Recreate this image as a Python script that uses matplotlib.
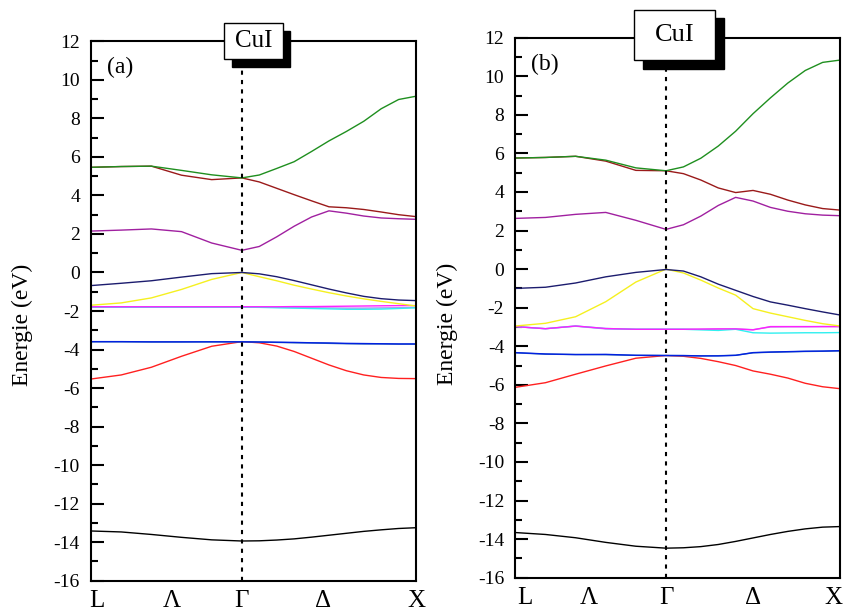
import numpy as np
import matplotlib.pyplot as plt
from matplotlib.patches import Rectangle

plt.rcParams['font.family'] = ['Liberation Serif', 'DejaVu Serif']
plt.rcParams['axes.unicode_minus'] = False

#%% data
# k path: L -> Gamma (0.866) -> X (1.866)
k = [0.0, 0.1732, 0.3464, 0.5196, 0.6928, 0.866,
     0.966, 1.066, 1.166, 1.266, 1.366, 1.466, 1.566, 1.666, 1.766, 1.866]
k_labels = ['L', 'Λ', 'Γ', 'Δ', 'X']
gamma_k = 0.866

# panel (a)
a_black = [-13.42, -13.47, -13.60, -13.75, -13.88, -13.94,
           -13.93, -13.89, -13.83, -13.74, -13.64, -13.54, -13.44, -13.36, -13.29, -13.25]
a_red = [-5.53, -5.32, -4.92, -4.35, -3.83, -3.59,
         -3.65, -3.82, -4.10, -4.45, -4.80, -5.10, -5.32, -5.45, -5.50, -5.51]
a_steel = [-3.60, -3.60, -3.61, -3.61, -3.60, -3.60,
           -3.61, -3.63, -3.65, -3.66, -3.68, -3.70, -3.71, -3.71, -3.72, -3.72]
a_blue = [-3.59, -3.59, -3.60, -3.60, -3.60, -3.60,
          -3.61, -3.62, -3.63, -3.65, -3.66, -3.68, -3.69, -3.70, -3.71, -3.71]
a_lav = [-1.80, -1.80, -1.80, -1.80, -1.80, -1.80,
         -1.80, -1.81, -1.82, -1.83, -1.84, -1.85, -1.85, -1.84, -1.83, -1.82]
a_cyan = [-1.80, -1.80, -1.80, -1.80, -1.80, -1.80,
          -1.81, -1.83, -1.85, -1.87, -1.89, -1.91, -1.91, -1.90, -1.87, -1.83]
a_magenta = [-1.78, -1.78, -1.78, -1.78, -1.78, -1.78,
             -1.78, -1.78, -1.77, -1.77, -1.76, -1.75, -1.74, -1.73, -1.72, -1.72]
a_yellow = [-1.70, -1.58, -1.32, -0.88, -0.36, 0.0,
            -0.22, -0.43, -0.66, -0.86, -1.05, -1.22, -1.37, -1.50, -1.62, -1.74]
a_navy = [-0.68, -0.56, -0.43, -0.24, -0.06, 0.0,
          -0.07, -0.22, -0.42, -0.64, -0.86, -1.06, -1.24, -1.36, -1.43, -1.46]
a_purple = [2.15, 2.20, 2.26, 2.12, 1.53, 1.15,
            1.35, 1.85, 2.40, 2.88, 3.20, 3.08, 2.93, 2.83, 2.79, 2.76]
a_darkred = [5.46, 5.50, 5.52, 5.05, 4.82, 4.91,
             4.70, 4.37, 4.04, 3.72, 3.41, 3.36, 3.27, 3.14, 3.00, 2.90]
a_green = [5.46, 5.50, 5.52, 5.30, 5.07, 4.91,
           5.06, 5.40, 5.75, 6.28, 6.83, 7.32, 7.85, 8.50, 8.98, 9.15]

# panel (b)
b_black = [-13.66, -13.76, -13.93, -14.17, -14.37, -14.47,
           -14.45, -14.39, -14.28, -14.12, -13.94, -13.76, -13.60, -13.47, -13.38, -13.35]
b_red = [-6.13, -5.89, -5.45, -5.02, -4.62, -4.48,
         -4.52, -4.63, -4.80, -5.00, -5.28, -5.45, -5.65, -5.92, -6.10, -6.20]
b_steel = [-4.34, -4.41, -4.43, -4.44, -4.47, -4.48,
           -4.49, -4.50, -4.49, -4.47, -4.34, -4.31, -4.29, -4.27, -4.26, -4.24]
b_blue = [-4.33, -4.40, -4.43, -4.42, -4.47, -4.48,
          -4.48, -4.50, -4.50, -4.47, -4.33, -4.30, -4.28, -4.26, -4.25, -4.23]
b_lav = [-2.98, -3.09, -2.96, -3.10, -3.12, -3.12,
         -3.12, -3.12, -3.11, -3.10, -3.14, -3.00, -2.99, -2.99, -2.98, -2.98]
b_cyan = [-2.98, -3.09, -2.95, -3.08, -3.12, -3.12,
          -3.12, -3.15, -3.18, -3.12, -3.30, -3.32, -3.31, -3.30, -3.30, -3.29]
b_magenta = [-2.98, -3.09, -2.95, -3.08, -3.12, -3.12,
             -3.12, -3.11, -3.10, -3.10, -3.15, -2.98, -2.98, -2.98, -2.98, -2.98]
b_yellow = [-2.95, -2.81, -2.47, -1.69, -0.67, 0.0,
            -0.20, -0.57, -0.98, -1.35, -2.05, -2.28, -2.47, -2.66, -2.83, -2.95]
b_navy = [-1.00, -0.94, -0.72, -0.40, -0.17, -0.02,
          -0.10, -0.40, -0.78, -1.10, -1.42, -1.70, -1.87, -2.05, -2.22, -2.38]
b_purple = [2.63, 2.68, 2.84, 2.94, 2.53, 2.06,
            2.30, 2.75, 3.30, 3.72, 3.53, 3.20, 3.00, 2.87, 2.80, 2.77]
b_darkred = [5.76, 5.79, 5.85, 5.60, 5.12, 5.10,
             4.95, 4.62, 4.21, 3.97, 4.08, 3.88, 3.58, 3.33, 3.14, 3.06]
b_green = [5.76, 5.79, 5.85, 5.65, 5.25, 5.10,
           5.30, 5.75, 6.38, 7.15, 8.06, 8.88, 9.65, 10.30, 10.72, 10.84]

band_colors = {'black': 'black', 'red': '#ff2020', 'steel': '#3a72b8', 'blue': '#0020e0',
               'lav': '#b58cf0', 'cyan': '#30f0f0', 'magenta': '#ff20ff', 'yellow': '#f5f020',
               'navy': '#1c1c6e', 'purple': '#a020a0', 'darkred': '#9a1a1a', 'green': '#1f8f1f'}

panels = [
    {'label': '(a)', 'rect': [0.108, 0.0558, 0.3855, 0.877], 'ylab': (-0.178, 0.474),
     'labk': [0.033, 0.463, 0.866, 1.330, 1.866],
     'bands': {'black': a_black, 'red': a_red, 'steel': a_steel, 'blue': a_blue, 'lav': a_lav,
               'cyan': a_cyan, 'magenta': a_magenta, 'yellow': a_yellow, 'navy': a_navy,
               'purple': a_purple, 'darkred': a_darkred, 'green': a_green},
     'box': (224, 23.3, 58.7, 36), 'shadow': (7.7, 7.7), 'boxfs': 18},
    {'label': '(b)', 'rect': [0.6113, 0.0607, 0.3852, 0.878], 'ylab': (-0.176, 0.47),
     'labk': [0.056, 0.424, 0.866, 1.366, 1.826],
     'bands': {'black': b_black, 'red': b_red, 'steel': b_steel, 'blue': b_blue, 'lav': b_lav,
               'cyan': b_cyan, 'magenta': b_magenta, 'yellow': b_yellow, 'navy': b_navy,
               'purple': b_purple, 'darkred': b_darkred, 'green': b_green},
     'box': (634.3, 10, 80.7, 50.3), 'shadow': (8.5, 8.5), 'boxfs': 19},
]

W, H = 843, 615
fig = plt.figure(figsize=(W / 100, H / 100), dpi=100)

for i, p in enumerate(panels):
    ax = fig.add_axes(p['rect'])
    for name, vals in p['bands'].items():
        ax.plot(k, vals, color=band_colors[name], lw=1.0)
    ax.axvline(gamma_k, color='black', lw=1.5, ls=(0, (2, 2.5)))
    ax.set_xlim(0, 1.866)
    ax.set_ylim(-16, 12)
    ax.set_yticks(np.arange(-16, 13, 2))
    ax.set_yticks(np.arange(-16, 13, 1), minor=True)
    ax.tick_params(axis='y', which='major', direction='in', length=9, width=1.5,
                   labelsize=14, pad=8)
    ax.tick_params(axis='y', which='minor', direction='in', length=5, width=1.5)
    ax.set_xticks(p['labk'])
    ax.set_xticklabels(k_labels)
    ax.tick_params(axis='x', length=0, labelsize=18, pad=7)
    for s in ax.spines.values():
        s.set_linewidth(1.5)
    ax.set_ylabel('Energie (eV)', fontsize=17)
    ax.yaxis.set_label_coords(*p['ylab'])
    ax.text(0.09, 0.951, p['label'], transform=ax.transAxes, fontsize=17,
            ha='center', va='center')

    # CuI label box with shadow
    bx, by, bw, bh = p['box']
    dx, dy = p['shadow']
    fig.add_artist(Rectangle(((bx + dx) / W, 1 - (by + dy + bh) / H), bw / W, bh / H,
                             transform=fig.transFigure, facecolor='black', edgecolor='black',
                             zorder=5))
    fig.add_artist(Rectangle((bx / W, 1 - (by + bh) / H), bw / W, bh / H,
                             transform=fig.transFigure, facecolor='white', edgecolor='black',
                             lw=1.0, zorder=6))
    fig.text((bx + bw / 2) / W, 1 - (by + bh / 2) / H, 'CuI', fontsize=p['boxfs'],
             ha='center', va='center', zorder=7)

plt.savefig('out.png', dpi=100)
